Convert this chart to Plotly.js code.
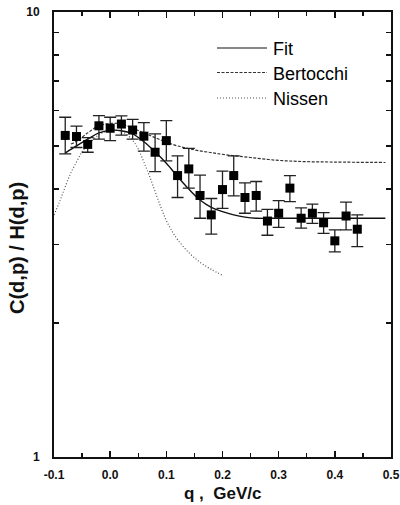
<!DOCTYPE html>
<html>
<head>
<meta charset="utf-8">
<script src="https://cdn.plot.ly/plotly-3.0.1.min.js"></script>
<style>html,body{margin:0;padding:0;background:#fff;}#chart{width:400px;height:505px;}</style>
</head>
<body>
<div id="chart"></div>
<script>
// Measured data points
const qVals = [-0.08,-0.06,-0.04,-0.02,0.0,0.02,0.04,0.06,0.08,0.10,0.12,0.14,0.16,0.18,0.20,0.22,0.24,0.26,0.28,0.30,0.32,0.34,0.36,0.38,0.40,0.42,0.44];
const ratio = [5.28,5.25,5.04,5.55,5.48,5.60,5.43,5.26,4.84,5.14,4.29,4.44,3.87,3.50,3.99,4.29,3.83,3.87,3.39,3.53,4.02,3.44,3.53,3.36,3.06,3.48,3.25];
const errPlus = [0.52,0.29,0.18,0.30,0.32,0.24,0.31,0.38,0.48,0.56,0.46,0.50,0.43,0.31,0.40,0.46,0.30,0.29,0.21,0.24,0.27,0.19,0.17,0.18,0.18,0.26,0.25];
const errMinus = [0.48,0.29,0.20,0.37,0.34,0.31,0.25,0.39,0.46,0.51,0.46,0.42,0.43,0.33,0.37,0.43,0.30,0.30,0.24,0.25,0.27,0.17,0.18,0.18,0.17,0.24,0.28];

// Fit curve
const fitQ = [-0.08,-0.06,-0.04,-0.02,0.0,0.02,0.04,0.06,0.08,0.10,0.12,0.14,0.16,0.18,0.20,0.22,0.24,0.26,0.30,0.40,0.49];
const fitY = [4.82,5.0,5.18,5.35,5.42,5.41,5.32,5.11,4.85,4.57,4.27,4.0,3.78,3.64,3.56,3.50,3.46,3.44,3.44,3.44,3.44];

// Bertocchi curve
const bertQ = [-0.07,-0.06,-0.04,-0.02,0.0,0.02,0.04,0.06,0.08,0.10,0.12,0.15,0.18,0.21,0.25,0.30,0.35,0.40,0.49];
const bertY = [5.05,5.12,5.35,5.55,5.62,5.6,5.48,5.35,5.22,5.1,5.0,4.9,4.83,4.77,4.71,4.64,4.61,4.6,4.59];

// Nissen curve
const nisQ = [-0.1,-0.09,-0.08,-0.07,-0.06,-0.05,-0.04,-0.02,0.0,0.02,0.04,0.05,0.06,0.07,0.08,0.09,0.10,0.11,0.12,0.14,0.16,0.18,0.20];
const nisY = [3.5,3.75,4.05,4.35,4.6,4.85,5.02,5.3,5.42,5.4,5.15,4.92,4.6,4.28,3.95,3.65,3.4,3.22,3.08,2.88,2.74,2.64,2.56];

// Axis ticks
const xTickVals = [-0.1,0.0,0.1,0.2,0.3,0.4,0.5];
const xTickText = ['-0.1','0.0','0.1','0.2','0.3','0.4','0.5'];
const xMinorVals = [-0.05,0.05,0.15,0.25,0.35,0.45];
const yTickVals = [1,2,3,4,5,6,7,8,9,10];
const yTickText = ['1','','','','','','','','','10'];

const legendNames = ['Fit','Bertocchi','Nissen'];

const FONT = 'Liberation Sans, Arial, sans-serif';

const traces = [
  {x: nisQ, y: nisY, mode:'lines', line:{color:'#555', width:1.2, dash:'1px,2px', shape:'spline'}, showlegend:false, hoverinfo:'skip'},
  {x: bertQ, y: bertY, mode:'lines', line:{color:'#333', width:1.2, dash:'3px,1.5px', shape:'spline'}, showlegend:false, hoverinfo:'skip'},
  {x: fitQ, y: fitY, mode:'lines', line:{color:'#111', width:1.4, shape:'spline'}, showlegend:false, hoverinfo:'skip'},
  {x: qVals, y: ratio, mode:'markers', type:'scatter',
   marker:{symbol:'square', size:9, color:'#000'},
   error_y:{type:'data', symmetric:false, array: errPlus, arrayminus: errMinus, color:'#222', thickness:1.3, width:6},
   showlegend:false}
];

// legend drawn with shapes + annotations
const legY = [48, 72.5, 98];
const legDash = ['solid','3px,1.5px','1px,2px'];
const legColor = ['#111','#333','#555'];
const px2x = p => (p-54)/337;
const px2y = p => (457-p)/445;
const shapes = [];
const annotations = [];
legendNames.forEach((n,i)=>{
  shapes.push({type:'line', xref:'paper', yref:'paper', x0:px2x(217), x1:px2x(267), y0:px2y(legY[i]), y1:px2y(legY[i]),
    line:{color:legColor[i], width:1.2, dash:legDash[i]}});
  annotations.push({xref:'paper', yref:'paper', x:px2x(271), y:px2y(legY[i]+1), xanchor:'left', yanchor:'middle',
    text:n, showarrow:false, font:{family:FONT, size:18, color:'#000'}});
});
annotations.push({xref:'paper', yref:'paper', x:px2x(222), y:px2y(493), xanchor:'center', yanchor:'middle',
  text:'<b>q ,  GeV/c</b>', showarrow:false, font:{family:FONT, size:17, color:'#111'}});
annotations.push({xref:'paper', yref:'paper', x:px2x(17), y:px2y(248), xanchor:'center', yanchor:'middle',
  text:'<b>C(d,p) / H(d,p)</b>', textangle:-90, showarrow:false, font:{family:FONT, size:20, color:'#111'}});

const layout = {
  width:400, height:505,
  margin:{l:54, r:9, t:12, b:48},
  paper_bgcolor:'#fff', plot_bgcolor:'#fff',
  showlegend:false,
  font:{family:FONT, color:'#111'},
  xaxis:{range:[-0.1,0.5], tickmode:'array', tickvals:xTickVals, ticktext:xTickText,
    ticks:'inside', ticklen:6, tickwidth:1.5, tickcolor:'#111',
    minor:{tickvals:xMinorVals, ticks:'inside', ticklen:4, tickwidth:1.3, tickcolor:'#111'},
    showline:true, linecolor:'#111', linewidth:2, mirror:'allticks',
    showgrid:false, zeroline:false, ticklabelstandoff:6,
    tickfont:{family:FONT, size:12, color:'#111', weight:'bold'}},
  yaxis:{type:'log', range:[0,1], tickmode:'array', tickvals:yTickVals, ticktext:yTickText,
    ticks:'inside', ticklen:5, tickwidth:1.4, tickcolor:'#111',
    showline:true, linecolor:'#111', linewidth:2, mirror:'allticks',
    showgrid:false, zeroline:false, ticklabelstandoff:10,
    tickfont:{family:FONT, size:12, color:'#111', weight:'bold'}},
  shapes: shapes,
  annotations: annotations
};

Plotly.newPlot('chart', traces, layout, {displayModeBar:false, staticPlot:true});
</script>
</body>
</html>
